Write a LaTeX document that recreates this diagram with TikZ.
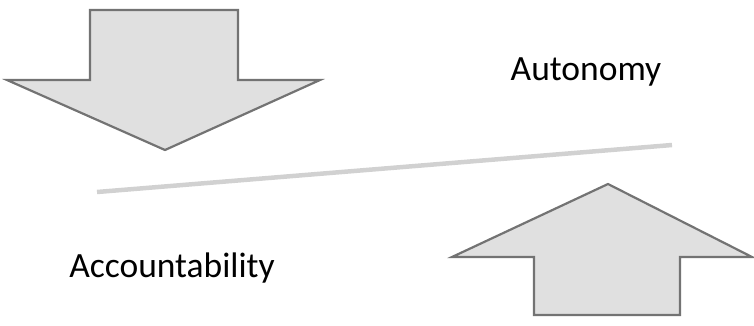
\documentclass[tikz,border=0pt]{standalone}
\usepackage{fontspec}
\setmainfont{Carlito}
\begin{document}
\begin{tikzpicture}[x=1pt,y=-1pt,
  arrowshape/.style={draw=black!55,line width=2.2pt,fill=black!12,line join=miter},
  band/.style={draw=black!18,line width=4.5pt},
  lbl/.style={font=\fontsize{35.5}{40}\selectfont,text=black}]
\useasboundingbox (0,0) rectangle (754,325);
\draw[arrowshape] (90,10) -- (238,10) -- (238,80) -- (320,80) -- (165,150) -- (7,80) -- (90,80) -- cycle;
\draw[arrowshape] (534,315) -- (680,315) -- (680,257) -- (752,257) -- (608,184) -- (452,257) -- (534,257) -- cycle;
\coordinate (l1) at (97,192);
\coordinate (l2) at (672,145);
\draw[band] (l1) -- (l2);
\node[lbl] (auto) at (586,72) {Autonomy};
\node[lbl] (acc) at (172,268) {Accountability};
\end{tikzpicture}
\end{document}
